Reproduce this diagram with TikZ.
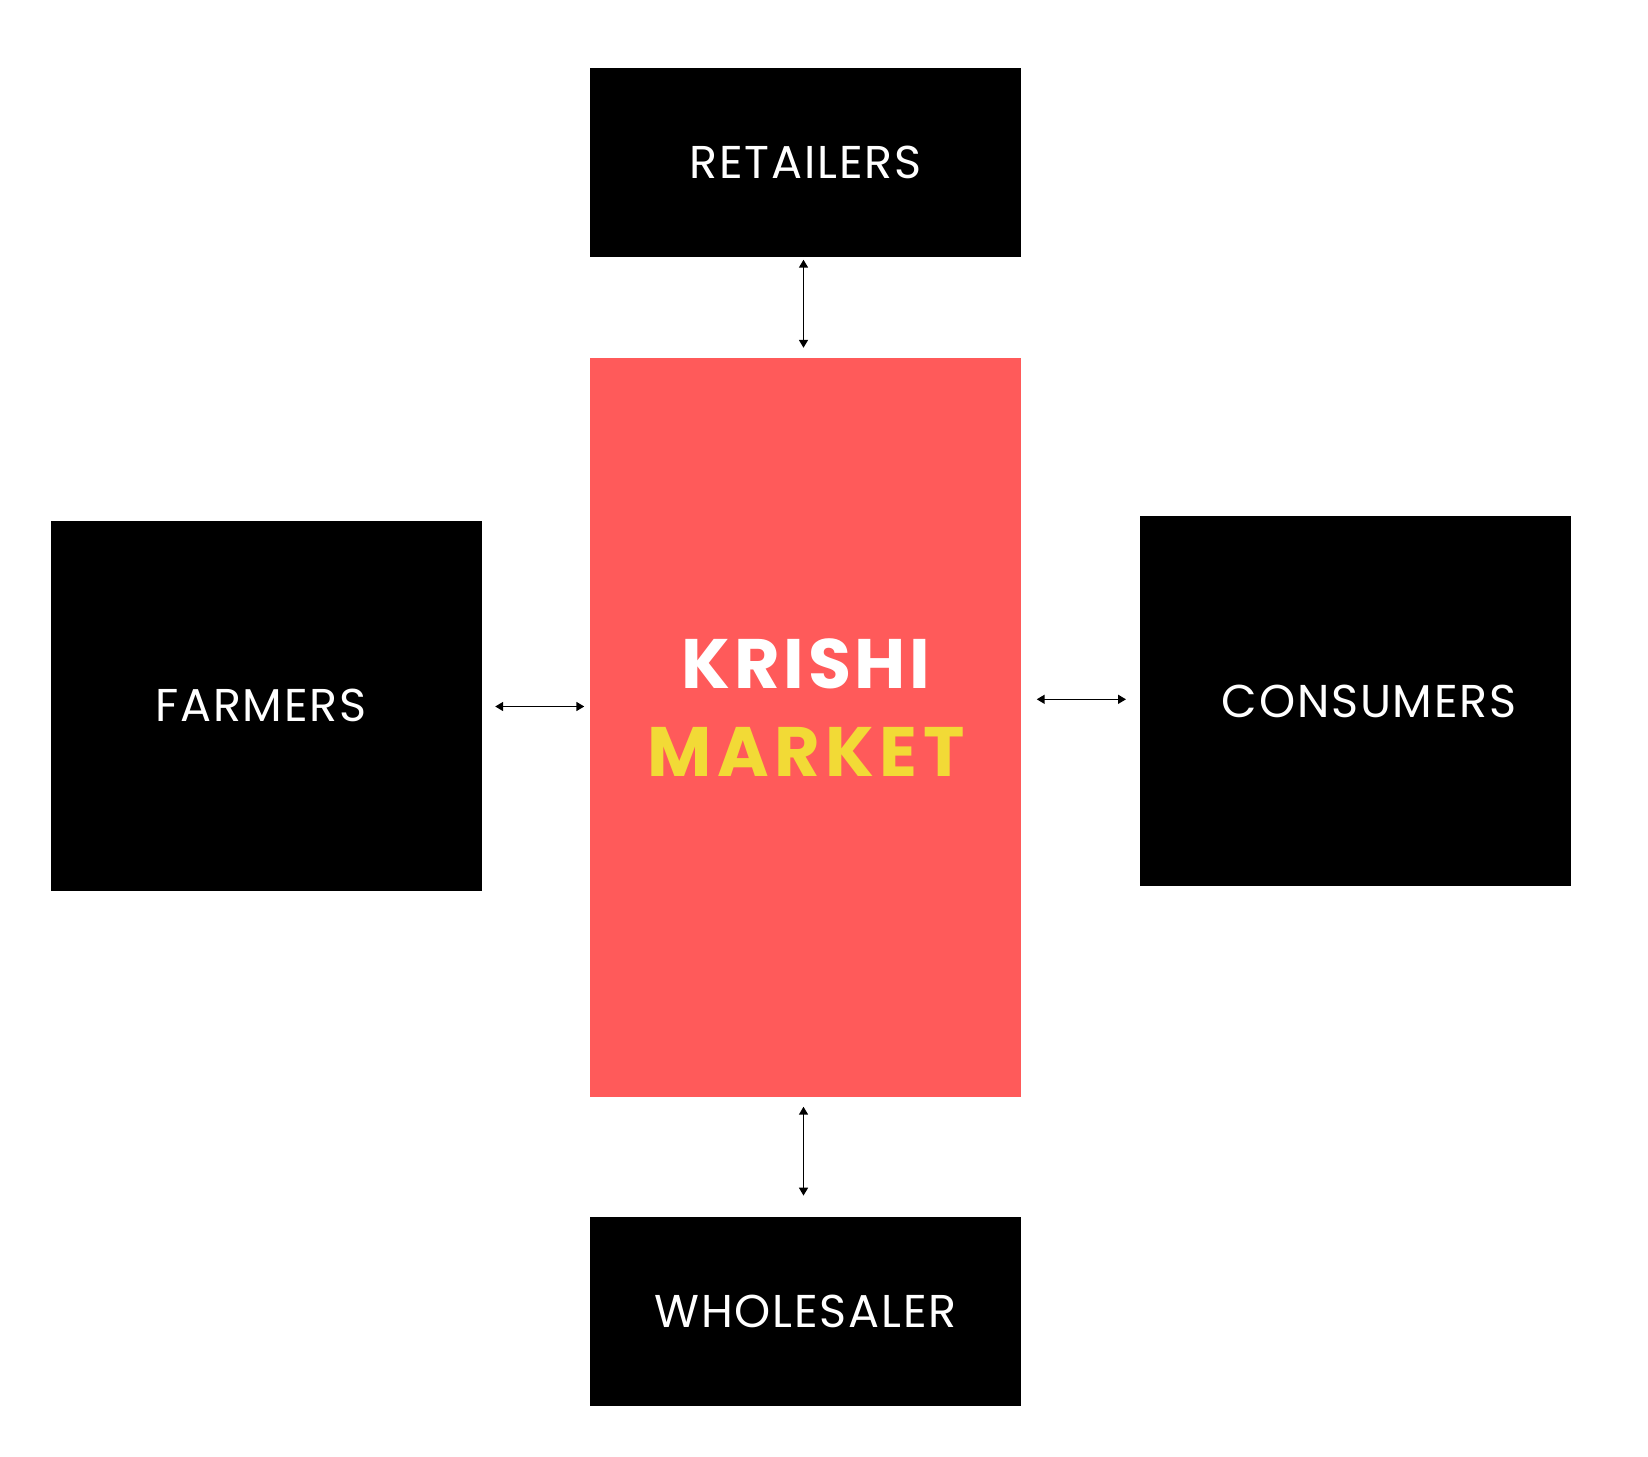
\documentclass[tikz,border=0pt]{standalone}
\usepackage{fontspec}
\setmainfont{Poppins}
\usetikzlibrary{arrows.meta}

\definecolor{marketred}{HTML}{FF5A5A}
\definecolor{marketyellow}{HTML}{F2DA36}

\tikzset{
    blackbox/.style = {fill = black, text = white, minimum width = 431pt, inner sep = 0pt, font = \addfontfeatures{LetterSpace=4}\fontsize{46}{50}\selectfont},
    marketbox/.style = {fill = marketred, minimum width = 431pt, minimum height = 739pt, inner sep = 0pt},
    link/.style = {{Triangle[length=8pt,width=9pt]}-{Triangle[length=8pt,width=9pt]}, line width = 1.6pt}
}

\begin{document}
\begin{tikzpicture}[x=1pt, y=-1pt]
    \useasboundingbox [fill = white] (0,0) rectangle (1648,1456);

    \node [marketbox] (market) at (805.5,727) {};
    \node [font = \bfseries\fontsize{70}{88}\selectfont, align = center] (krishi) at (806,707.5)
        {\textcolor{white}{\addfontfeatures{LetterSpace=5.5}KRISHI}\\\textcolor{marketyellow}{\addfontfeatures{LetterSpace=8}MARKET}};

    \node [blackbox, minimum height = 189pt] (retailers) at (805.5,162) {RETAILERS};
    \node [blackbox, minimum height = 370pt] (farmers) at (266,705.5) {FARMERS\kern 10pt};
    \node [blackbox, minimum height = 370pt] (consumers) at (1355.2,701) {\kern 28pt CONSUMERS};
    \node [blackbox, minimum height = 189pt] (wholesaler) at (805.5,1311.3) {WHOLESALER};

    \draw [link, shorten < = 3pt, shorten > = 9.5pt] ([xshift=-2pt]retailers.south) -- ([xshift=-2pt]market.north);
    \draw [link, shorten < = 10pt, shorten > = 21pt] ([xshift=-2pt]market.south) -- ([xshift=-2pt]wholesaler.north);
    \draw [link, shorten < = 13.5pt, shorten > = 5.5pt] ([yshift=-1pt]farmers.east) -- ([yshift=-1pt]farmers.east -| market.west);
    \draw [link, shorten < = 15.5pt, shorten > = 13.5pt] ([yshift=1.7pt]consumers.west -| market.east) -- ([yshift=1.7pt]consumers.west);
\end{tikzpicture}
\end{document}
